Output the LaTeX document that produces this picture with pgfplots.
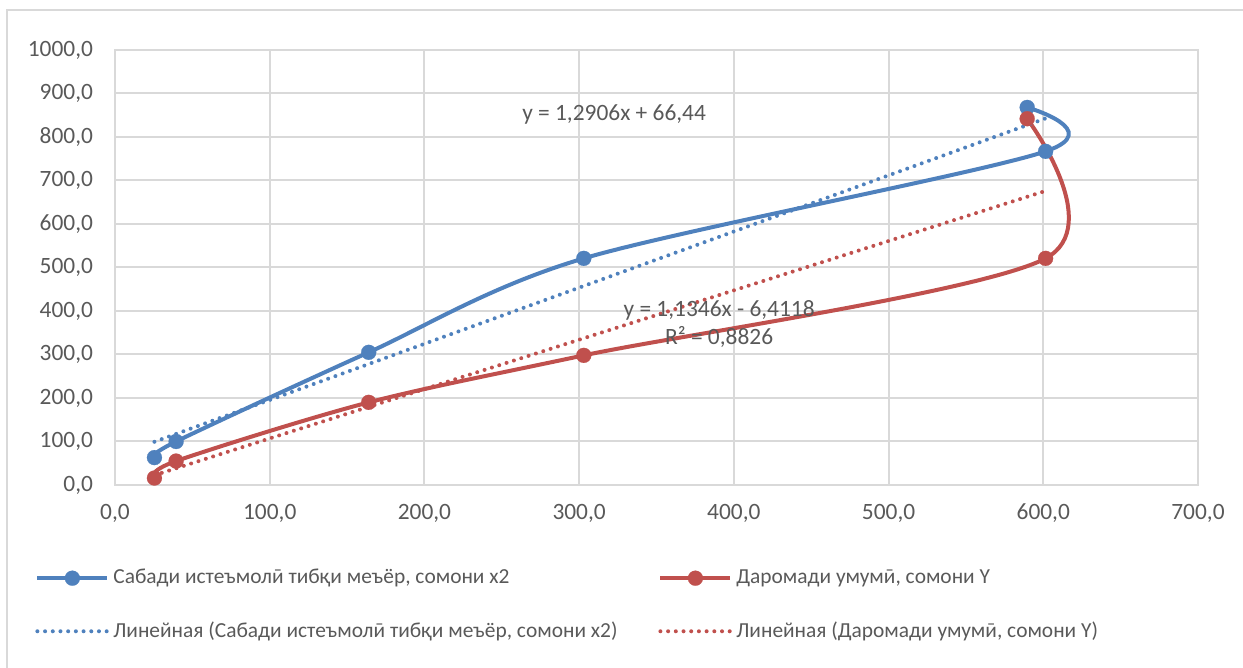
\documentclass[border=0pt]{standalone}
\usepackage{fontspec}
\setmainfont{Carlito}
\usepackage{pgfplots}
\pgfplotsset{compat=1.18}
\definecolor{cblue}{HTML}{4F81BD}
\definecolor{cred}{HTML}{C0504D}
\definecolor{cgrid}{HTML}{D9D9D9}
\definecolor{ctext}{HTML}{595959}
\newcommand{\cfont}{\fontsize{11.7bp}{14bp}\selectfont}
\newcommand{\lfont}{\fontsize{10.7bp}{13bp}\selectfont}
\begin{document}
\begin{tikzpicture}
\useasboundingbox (0bp,0bp) rectangle (621.5bp,334bp);
\draw[cgrid, line width=0.75bp] (3.5bp,-10bp) -- (3.5bp,329bp) -- (640bp,329bp);
\begin{axis}[
  at={(57.5bp,91.5bp)}, anchor=south west,
  scale only axis, width=541.5bp, height=217.5bp,
  xmin=0, xmax=700, ymin=0, ymax=1000,
  xtick={0,100,...,700}, ytick={0,100,...,1000},
  grid=major,
  major grid style={cgrid, line width=1bp},
  axis line style={cgrid, line width=1bp},
  tick style={draw=none},
  ticklabel style={font=\cfont, text=ctext},
  xticklabel shift=6bp,
  yticklabel shift=7.5bp,
  /pgf/number format/.cd, fixed, fixed zerofill, precision=1, use comma, 1000 sep={}, assume math mode=true,
  /pgfplots/.cd,
  legend columns=2,
  legend cell align=left,
  legend style={at={(-0.0739,-0.184)}, anchor=north west, draw=none, fill=none,
    inner sep=0pt, font=\lfont, text=ctext, row sep=13.5bp,
    /tikz/every even column/.append style={column sep=18.5bp}},
  legend image code/.code={\draw[mark repeat=2,mark phase=2,#1] plot coordinates {(0bp,0bp) (17.5bp,0bp) (35bp,0bp)};},
]
\addplot[cblue, line width=2bp, smooth, mark=*, mark size=3.75bp, mark options={solid, fill=cblue, draw=cblue, line width=0.1bp}]
  coordinates {(25.5,63) (39.5,100) (164,305) (303,521) (601.5,767) (589.6,868)};
\addlegendentry{Сабади истеъмолӣ тибқи меъёр, сомони x2}
\addplot[cred, line width=2bp, smooth, mark=*, mark size=3.75bp, mark options={solid, fill=cred, draw=cred, line width=0.1bp}]
  coordinates {(25.5,16) (39.5,55) (164,190) (303,298) (601.5,521) (589.6,842)};
\addlegendentry{Даромади умумӣ, сомони Y}
\addplot[cblue, line width=2bp, line cap=round, dash pattern=on 0pt off 3.85bp]
  coordinates {(25.5,99.35) (601.5,842.75)};
\addlegendentry{Линейная (Сабади истеъмолӣ тибқи меъёр, сомони x2)}
\addplot[cred, line width=2bp, line cap=round, dash pattern=on 0pt off 3.85bp]
  coordinates {(25.5,22.52) (601.5,676.05)};
\addlegendentry{Линейная (Даромади умумӣ, сомони Y)}
\node[font=\cfont, text=ctext] at (axis cs:322.6,852) {y = 1,2906x + 66,44};
\node[font=\cfont, text=ctext, align=center] at (axis cs:390.5,370) {y = 1,1346x - 6,4118\\R² = 0,8826};
\end{axis}
\end{tikzpicture}
\end{document}
